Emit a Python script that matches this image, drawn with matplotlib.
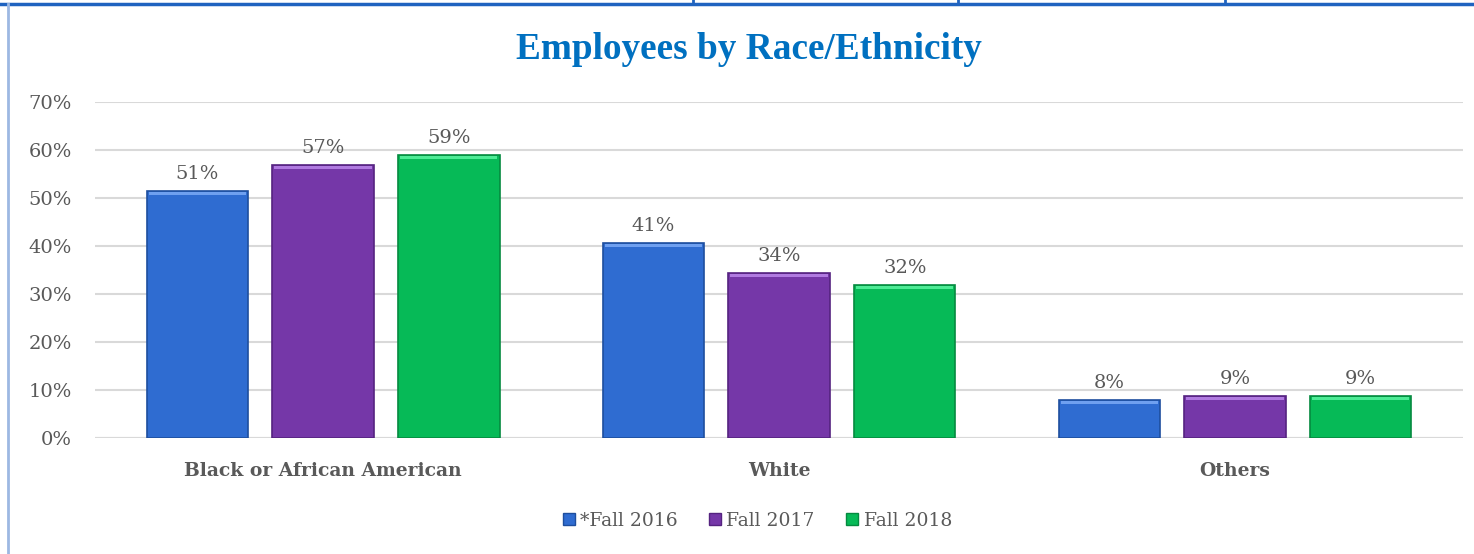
import matplotlib.pyplot as plt
import numpy as np
from matplotlib.lines import Line2D

# Data
categories = ['Black or African American', 'White', 'Others']
series_names = ['*Fall 2016', 'Fall 2017', 'Fall 2018']
fall_2016 = [51.5, 40.6, 7.9]
fall_2017 = [56.9, 34.4, 8.8]
fall_2018 = [59.0, 31.9, 8.8]
labels_2016 = ['51%', '41%', '8%']
labels_2017 = ['57%', '34%', '9%']
labels_2018 = ['59%', '32%', '9%']

colors = ['#2F6CD1', '#7537A8', '#06BA57']
edges = ['#1E4E9E', '#552380', '#058A40']
tops = ['#6FA0F0', '#B07AE0', '#4DEB95']

serif = ['DejaVu Serif']
title_font = ['Liberation Serif', 'DejaVu Serif']
gray = '#595959'

fig = plt.figure(figsize=(14.74, 5.54), dpi=100)
ax = fig.add_axes([0.0645, 0.2094, 0.928, 0.6065])

x = np.arange(len(categories))
width = 0.222
step = 0.276
all_vals = [fall_2016, fall_2017, fall_2018]
all_labels = [labels_2016, labels_2017, labels_2018]

for i, (vals, labs) in enumerate(zip(all_vals, all_labels)):
    pos = x + (i - 1) * step
    ax.bar(pos, vals, width, color=colors[i], edgecolor=edges[i], linewidth=1.2, zorder=3)
    # light bevel strip on the top edge
    ax.bar(pos, [0.6] * len(vals), width * 0.96, bottom=np.array(vals) - 0.8,
           color=tops[i], linewidth=0, zorder=4)
    for p, v, t in zip(pos, vals, labs):
        ax.text(p, v + 1.6, t, ha='center', va='bottom', fontsize=14,
                color=gray, family=serif)

ax.set_ylim(0, 70)
ax.set_xlim(-0.5, 2.5)
ax.set_yticks(np.arange(0, 71, 10))
ax.set_yticklabels([f'{t}%' for t in range(0, 71, 10)], fontsize=14,
                   color=gray, family=serif)
ax.set_xticks(x)
ax.set_xticklabels(categories, fontsize=13.5, fontweight='bold', color=gray, family=serif)
ax.tick_params(axis='both', length=0)
ax.tick_params(axis='y', pad=16.5)
ax.tick_params(axis='x', pad=17)
ax.yaxis.grid(True, color='#D9D9D9', linewidth=1.5, zorder=0)
for s in ax.spines.values():
    s.set_visible(False)
ax.axhline(0, color='#D9D9D9', linewidth=1.5, zorder=2)

fig.text(0.508, 0.91, 'Employees by Race/Ethnicity', ha='center', va='center',
         fontsize=26.8, fontweight='bold', color='#0070C0', family=title_font)

handles = [Line2D([0], [0], marker='s', linestyle='none', markersize=9,
                  markerfacecolor=colors[i], markeredgecolor=edges[i])
           for i in range(3)]
leg = fig.legend(handles, series_names, loc='center', bbox_to_anchor=(0.512, 0.06),
                 ncol=3, frameon=False, handletextpad=0.0, handlelength=1.2,
                 columnspacing=1.4, prop={'family': serif, 'size': 13.5})
for t in leg.get_texts():
    t.set_color(gray)

# table border lines from the surrounding document
fig.add_artist(Line2D([0, 1], [0.993, 0.993], color='#1F63C0', linewidth=2.5))
fig.add_artist(Line2D([0.0055, 0.0055], [0, 0.993], color='#9DB8E2', linewidth=2))
for xv in [693, 958, 1225]:
    fig.add_artist(Line2D([xv / 1474, xv / 1474], [0.993, 1.0], color='#1F63C0', linewidth=2))

plt.savefig('out.png', dpi=100)
